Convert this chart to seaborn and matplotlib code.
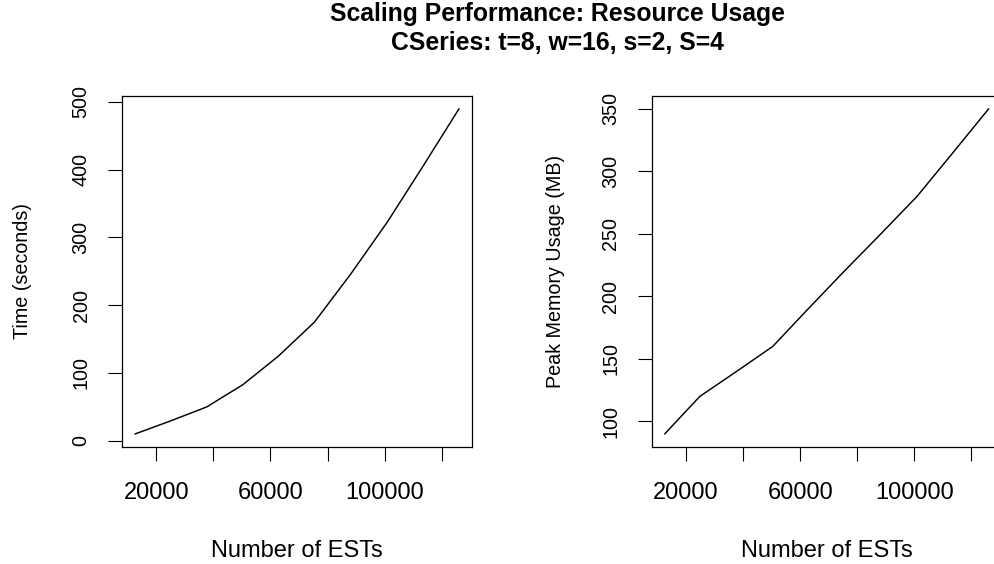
import matplotlib
matplotlib.use("Agg")
import matplotlib.pyplot as plt
import seaborn as sns
import pandas as pd

# ---- data ----
ests = [12500, 24800, 37700, 50400, 62800, 75400, 88300, 101000, 113600, 126100]
time_sec = [10, 29, 50, 83, 125, 175, 247, 323, 406, 490]
memory_mb = [90, 120, 140, 160, 190, 220, 250, 280, 315, 350]

x_ticks = [20000, 40000, 60000, 80000, 100000, 120000]
x_tick_labels = ["20000", "", "60000", "", "100000", ""]
time_ticks = [0, 100, 200, 300, 400, 500]
mem_ticks = [100, 150, 200, 250, 300, 350]

title_line1 = "Scaling Performance: Resource Usage"
title_line2 = "CSeries: t=8, w=16, s=2, S=4"

sns.set_theme(style="white")
plt.rcParams['font.family'] = ['Liberation Sans', 'DejaVu Sans']
plt.rcParams['text.color'] = 'black'
plt.rcParams['axes.labelcolor'] = 'black'

W, H = 995, 564
fig = plt.figure(figsize=(W / 100, H / 100), dpi=100)

top_px, bot_px = 95.7, 447.0
ax_h = (bot_px - top_px) / H
ax_b = 1 - bot_px / H

ax1 = fig.add_axes([122 / W, ax_b, 350.0 / W, ax_h])
ax2 = fig.add_axes([651.7 / W, ax_b, 350.0 / W, ax_h])

df = pd.DataFrame({"ests": ests, "time": time_sec, "mem": memory_mb})

sns.lineplot(data=df, x="ests", y="time", ax=ax1, color="black", linewidth=1.05)
sns.lineplot(data=df, x="ests", y="mem", ax=ax2, color="black", linewidth=1.05)

def pad_range(vals):
    lo, hi = min(vals), max(vals)
    r = (hi - lo) * 0.04
    return lo - r, hi + r

tick_fs = 17
lab_fs_h = 17
lab_fs_v = 14.2

for ax, yv, yt, ylab, ylx in [
    (ax1, time_sec, time_ticks, "Time (seconds)", (23 - 122) / 350.0),
    (ax2, memory_mb, mem_ticks, "Peak Memory Usage (MB)", (556 - 651.7) / 350.0),
]:
    ax.set_xlim(*pad_range(ests))
    ax.set_ylim(*pad_range(yv))
    ax.set_xticks(x_ticks)
    ax.set_xticklabels(x_tick_labels, fontsize=tick_fs, color="black")
    ax.set_yticks(yt)
    ax.set_yticklabels([str(v) for v in yt], fontsize=lab_fs_v, color="black")
    for sp in ax.spines.values():
        sp.set_visible(True)
        sp.set_color("black")
        sp.set_linewidth(0.9)
    ax.tick_params(axis="both", which="both", direction="out", length=10,
                   width=0.8, color="black", labelcolor="black",
                   bottom=True, left=True, top=False, right=False)
    ax.tick_params(axis="x", pad=15.5)
    ax.tick_params(axis="y", pad=19.5)
    ax.grid(False)
    ax.set_xlabel("Number of ESTs", fontsize=lab_fs_h, va="baseline", color="black")
    ax.xaxis.set_label_coords(0.5, (bot_px - 557) / (bot_px - top_px))
    ax.set_ylabel(ylab, fontsize=lab_fs_v, rotation=90, ha="center", va="center",
                  rotation_mode="anchor", color="black")
    ax.yaxis.set_label_coords(ylx, 0.5)
    for lab in ax.get_yticklabels():
        lab.set_rotation(90)
        lab.set_rotation_mode("anchor")
        lab.set_ha("center")
        lab.set_va("center")

# the reference's right panel box runs past the image edge
ax2.spines["right"].set_visible(False)

fig.text(557 / W, 1 - 21 / H, title_line1, ha="center", va="baseline",
         fontsize=17.8, fontweight="bold", color="black")
fig.text(557 / W, 1 - 49.5 / H, title_line2, ha="center", va="baseline",
         fontsize=17.8, fontweight="bold", color="black")

fig.savefig("out.png", dpi=100, facecolor="white")
